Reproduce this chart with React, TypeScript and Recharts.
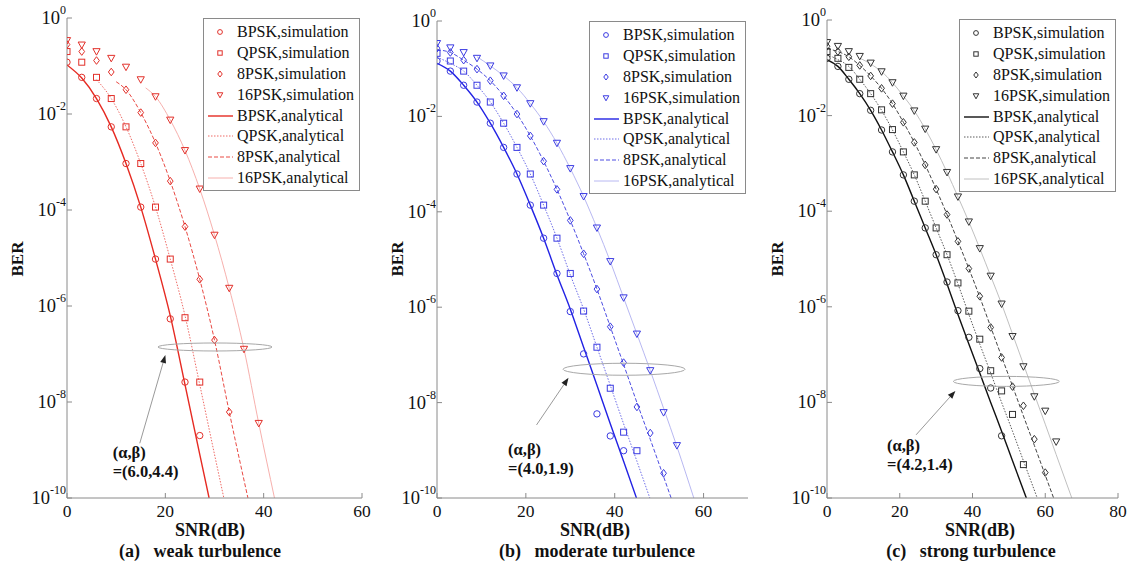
import React from 'react';
import { ComposedChart, Line, Scatter, XAxis, YAxis, ReferenceDot, ReferenceLine, Legend } from 'recharts';

const snrGrid = [0, 3, 6, 9, 12, 15, 18, 21, 24, 27, 30, 33, 36, 39, 42, 45, 48, 51, 54, 57, 60, 63];
const berTicks = [1, 1e-2, 1e-4, 1e-6, 1e-8, 1e-10];
const snrTicksAB = [0, 20, 40, 60];
const snrTicksC = [0, 20, 40, 60, 80];
const legendNames = [
  'BPSK,simulation', 'QPSK,simulation', '8PSK,simulation', '16PSK,simulation',
  'BPSK,analytical', 'QPSK,analytical', '8PSK,analytical', '16PSK,analytical',
];

// (a) weak turbulence
const weakBpskSim = [0.12, 5.8e-2, 2.1e-2, 5.4e-3, 9.3e-4, 1.15e-4, 9.5e-6, 5.4e-7, 2.6e-8, 2.0e-9];
const weakQpskSim = [0.2, 0.12, 5.8e-2, 2.1e-2, 5.4e-3, 9.3e-4, 1.15e-4, 9.5e-6, 5.7e-7, 2.6e-8];
const weak8pskSim = [0.28, 0.2, 0.13, 7.5e-2, 3.2e-2, 1.07e-2, 2.5e-3, 4.0e-4, 4.5e-5, 3.6e-6, 1.95e-7, 6.2e-9];
const weak16pskSim = [0.34, 0.275, 0.2, 0.145, 9.5e-2, 5.2e-2, 2.3e-2, 7.5e-3, 1.74e-3, 2.75e-4, 3.0e-5, 2.35e-6, 1.26e-7, 3.6e-9];
const weakBpskAnaSnr = [0, 3, 6, 9, 12, 15, 18, 21, 24, 27, 28.9];
const weakBpskAna = [0.105, 5.6e-2, 2.1e-2, 5.4e-3, 9.3e-4, 1.15e-4, 9.5e-6, 6.3e-7, 2.3e-8, 8.1e-10, 1e-10];
const weakQpskAnaSnr = [6, 9, 12, 15, 18, 21, 24, 27, 30, 31.9];
const weakQpskAna = [5.2e-2, 2.1e-2, 5.4e-3, 9.3e-4, 1.15e-4, 9.5e-6, 6.3e-7, 2.3e-8, 8.1e-10, 1e-10];
const weak8pskAnaSnr = [10, 12, 15, 18, 21, 24, 27, 30, 33, 36.8];
const weak8pskAna = [4.7e-2, 3.2e-2, 1.07e-2, 2.5e-3, 4.0e-4, 4.5e-5, 3.6e-6, 1.95e-7, 6.2e-9, 1e-10];
const weak16pskAnaSnr = [16, 18, 21, 24, 27, 30, 33, 36, 39, 42.2];
const weak16pskAna = [3.5e-2, 2.3e-2, 7.5e-3, 1.74e-3, 2.75e-4, 3.0e-5, 2.35e-6, 1.26e-7, 3.6e-9, 1e-10];

// (b) moderate turbulence
const modBpskSim = [0.145, 8.9e-2, 4.5e-2, 2.0e-2, 7.2e-3, 2.24e-3, 6.2e-4, 1.38e-4, 2.8e-5, 5.1e-6, 8.1e-7, 1.05e-7, 5.8e-9, 2.0e-9, 9.8e-10];
const modQpskSim = [0.21, 0.145, 8.9e-2, 4.5e-2, 2.0e-2, 7.2e-3, 2.24e-3, 6.2e-4, 1.38e-4, 2.8e-5, 5.1e-6, 8.3e-7, 1.45e-7, 2.0e-8, 2.4e-9, 9.8e-10];
const mod8pskSim = [0.269, 0.219, 0.151, 9.8e-2, 5.6e-2, 2.7e-2, 1.12e-2, 3.9e-3, 1.15e-3, 2.95e-4, 6.6e-5, 1.32e-5, 2.4e-6, 3.9e-7, 6.9e-8, 8.1e-9, 2.3e-9, 3.3e-10];
const mod16pskSim = [0.339, 0.275, 0.219, 0.166, 0.115, 7.1e-2, 4.0e-2, 1.86e-2, 7.8e-3, 2.75e-3, 8.1e-4, 2.1e-4, 4.6e-5, 9.1e-6, 1.58e-6, 2.75e-7, 4.7e-8, 6.2e-9, 1.26e-9];
const modBpskAnaSnr = [0, 3, 6, 9, 12, 15, 18, 21, 24, 27, 30, 33, 36, 39, 42, 44.9];
const modBpskAna = [0.13, 8.9e-2, 4.5e-2, 2.0e-2, 7.2e-3, 2.24e-3, 6.2e-4, 1.38e-4, 2.8e-5, 4.8e-6, 9.1e-7, 1.45e-7, 2.3e-8, 3.6e-9, 5.9e-10, 1e-10];
const modQpskAnaSnr = [0, 3, 6, 9, 12, 15, 18, 21, 24, 27, 30, 33, 36, 39, 42, 45, 47.9];
const modQpskAna = [0.174, 0.13, 8.9e-2, 4.5e-2, 2.0e-2, 7.2e-3, 2.24e-3, 6.2e-4, 1.38e-4, 2.8e-5, 4.8e-6, 9.1e-7, 1.45e-7, 2.3e-8, 3.6e-9, 5.9e-10, 1e-10];
const mod8pskAnaSnr = [0, 3, 6, 9, 12, 15, 18, 21, 24, 27, 30, 33, 36, 39, 42, 45, 48, 51, 52.7];
const mod8pskAna = [0.25, 0.219, 0.151, 9.8e-2, 5.6e-2, 2.7e-2, 1.12e-2, 3.9e-3, 1.15e-3, 2.95e-4, 6.6e-5, 1.32e-5, 2.4e-6, 3.9e-7, 6.3e-8, 1.0e-8, 1.7e-9, 2.8e-10, 1e-10];
const mod16pskAnaSnr = [9, 12, 15, 18, 21, 24, 27, 30, 33, 36, 39, 42, 45, 48, 51, 54, 57.8];
const mod16pskAna = [0.178, 0.115, 7.1e-2, 4.0e-2, 1.86e-2, 7.8e-3, 2.75e-3, 8.1e-4, 2.1e-4, 4.6e-5, 9.1e-6, 1.58e-6, 2.75e-7, 4.7e-8, 7.6e-9, 1.2e-9, 1e-10];

// (c) strong turbulence
const strBpskSim = [0.158, 0.107, 5.75e-2, 2.88e-2, 1.29e-2, 5.0e-3, 1.74e-3, 5.75e-4, 1.62e-4, 4.47e-5, 1.23e-5, 3.3e-6, 8.3e-7, 2.3e-7, 5.1e-8, 2.0e-8, 2.0e-9];
const strQpskSim = [0.219, 0.158, 0.102, 5.75e-2, 2.88e-2, 1.32e-2, 5.1e-3, 1.74e-3, 5.75e-4, 1.62e-4, 4.47e-5, 1.23e-5, 3.16e-6, 8.1e-7, 2.1e-7, 4.6e-8, 1.74e-8, 5.6e-9, 5.0e-10];
const str8pskSim = [0.282, 0.219, 0.17, 0.112, 6.76e-2, 3.72e-2, 1.78e-2, 7.24e-3, 2.75e-3, 9.3e-4, 2.9e-4, 8.5e-5, 2.34e-5, 6.3e-6, 1.66e-6, 3.7e-7, 8.7e-8, 2.14e-8, 8.5e-9, 1.7e-9, 3.4e-10];
const str16pskSim = [0.339, 0.282, 0.219, 0.174, 0.126, 8.3e-2, 4.9e-2, 2.57e-2, 1.26e-2, 5.25e-3, 1.95e-3, 6.5e-4, 2.0e-4, 6.0e-5, 1.66e-5, 4.4e-6, 1.15e-6, 2.4e-7, 5.6e-8, 1.32e-8, 6.6e-9, 1.5e-9];
const strBpskAnaSnr = [0, 3, 6, 9, 12, 15, 18, 21, 24, 27, 30, 33, 36, 39, 42, 45, 48, 51, 54.8];
const strBpskAna = [0.148, 0.107, 5.75e-2, 2.88e-2, 1.29e-2, 5.0e-3, 1.74e-3, 5.75e-4, 1.62e-4, 4.47e-5, 1.23e-5, 3.0e-6, 6.9e-7, 1.66e-7, 4.1e-8, 1.0e-8, 2.5e-9, 6.0e-10, 1e-10];
const strQpskAnaSnr = [0, 3, 6, 9, 12, 15, 18, 21, 24, 27, 30, 33, 36, 39, 42, 45, 48, 51, 54, 57.8];
const strQpskAna = [0.19, 0.148, 0.107, 5.75e-2, 2.88e-2, 1.29e-2, 5.0e-3, 1.74e-3, 5.75e-4, 1.62e-4, 4.47e-5, 1.23e-5, 3.0e-6, 6.9e-7, 1.66e-7, 4.1e-8, 1.0e-8, 2.5e-9, 6.0e-10, 1e-10];
const str8pskAnaSnr = [0, 3, 6, 9, 12, 15, 18, 21, 24, 27, 30, 33, 36, 39, 42, 45, 48, 51, 54, 57, 60, 62.3];
const str8pskAna = [0.25, 0.219, 0.17, 0.112, 6.76e-2, 3.72e-2, 1.78e-2, 7.24e-3, 2.75e-3, 9.3e-4, 2.9e-4, 8.5e-5, 2.34e-5, 6.3e-6, 1.6e-6, 3.8e-7, 9.1e-8, 2.2e-8, 5.2e-9, 1.26e-9, 3.0e-10, 1e-10];
const str16pskAnaSnr = [9, 12, 15, 18, 21, 24, 27, 30, 33, 36, 39, 42, 45, 48, 51, 54, 57, 60, 63, 67.3];
const str16pskAna = [0.16, 0.12, 8.3e-2, 4.9e-2, 2.57e-2, 1.26e-2, 5.25e-3, 1.95e-3, 6.5e-4, 2.0e-4, 6.0e-5, 1.66e-5, 4.4e-6, 1.15e-6, 2.7e-7, 6.3e-8, 1.48e-8, 3.5e-9, 8.1e-10, 1e-10];

const FONT = '"Liberation Serif", "Times New Roman", serif';
const kinds = ['circle', 'square', 'diamond', 'triangle'];

const toPoints = (snr: number[], ber: number[]) => ber.map((b, i) => ({ snr: snr[i], ber: b }));

function Marker({ kind, cx, cy, color, s = 3.2 }: any) {
  if (cx == null || cy == null) return <g />;
  if (kind === 'circle') return <circle cx={cx} cy={cy} r={s} fill="none" stroke={color} strokeWidth={1} />;
  if (kind === 'square') return <rect x={cx - s + 0.2} y={cy - s + 0.2} width={2 * s - 0.4} height={2 * s - 0.4} fill="none" stroke={color} strokeWidth={1} />;
  if (kind === 'diamond') {
    const d = s + 0.6;
    return <polygon points={`${cx},${cy - d} ${cx + d * 0.75},${cy} ${cx},${cy + d} ${cx - d * 0.75},${cy}`} fill="none" stroke={color} strokeWidth={1} />;
  }
  const t = s + 0.4;
  return <polygon points={`${cx - t},${cy - t * 0.8} ${cx + t},${cy - t * 0.8} ${cx},${cy + t}`} fill="none" stroke={color} strokeWidth={1} />;
}

const YTick = ({ x, y, payload }: any) => {
  const exp = Math.round(Math.log10(payload.value));
  return (
    <text x={x} y={y + 6} textAnchor="end" fontFamily={FONT} fontSize={18.5} fill="#111">
      10<tspan dy={-10} fontSize={12}>{exp}</tspan>
    </text>
  );
};

const XTick = ({ x, y, payload }: any) => (
  <text x={x} y={y} dy={12} textAnchor="middle" fontFamily={FONT} fontSize={17.5} fill="#111">
    {payload.value}
  </text>
);

const Blank = () => <g />;

type Curve = { snr: number[]; ber: number[] };

interface PanelProps {
  left: number;
  width: number;
  plotLeft: number;
  plotRight: number;
  plotTop: number;
  xMax: number;
  xTicks: number[];
  sims: number[][];
  anas: Curve[];
  markerColor: string;
  lineColors: string[];
  legendPos: { left: number; top: number };
  ellipse: { snr: number; ber: number; rx: number; ry: number };
  arrow: { from: [number, number]; to: [number, number] };
  note: { snr: number; ber: number; text: string };
  berLabelX: number;
  snrLabelX: number;
  caption: string;
  captionX: number;
}

const dashes = [undefined, '1.5 1.5', '4 2', undefined];
const widths = [1.4, 1, 1, 1];

function LegendBox({ markerColor, lineColors }: { markerColor: string; lineColors: string[] }) {
  return (
    <div style={{ border: '1px solid #8a8a8a', background: '#fff', width: 157, padding: '3px 0 2px', fontFamily: FONT, fontSize: 16, color: '#111', boxSizing: 'border-box' }}>
      {legendNames.map((name, i) => (
        <div key={name} style={{ height: 20.8, display: 'flex', alignItems: 'center', whiteSpace: 'nowrap' }}>
          <svg width={32} height={12} style={{ flex: 'none' }}>
            {i < 4 ? (
              <Marker kind={kinds[i]} cx={16} cy={6} color={markerColor} s={2.4} />
            ) : (
              <line x1={4} x2={29} y1={6} y2={6} stroke={lineColors[i - 4]} strokeWidth={widths[i - 4]} strokeDasharray={dashes[i - 4]} />
            )}
          </svg>
          <span style={{ marginLeft: 1 }}>{name}</span>
        </div>
      ))}
    </div>
  );
}

function Panel(p: PanelProps) {
  const H = 565;
  const yAxisW = 50;
  const margin = { top: p.plotTop, right: p.left + p.width - p.plotRight, bottom: H - 498 - 30, left: p.plotLeft - p.left - yAxisW };
  const axisStroke = '#8a8a8a';
  return (
    <div style={{ position: 'absolute', left: p.left, top: 0, width: p.width, height: H }}>
      <ComposedChart width={p.width} height={H} margin={margin}>
        <XAxis xAxisId="b" dataKey="snr" type="number" domain={[0, p.xMax]} ticks={p.xTicks} allowDataOverflow
          tickSize={-5} tickMargin={12} tick={<XTick />} stroke={axisStroke} height={30} />
        <XAxis xAxisId="t" orientation="top" type="number" domain={[0, p.xMax]} ticks={p.xTicks} allowDataOverflow
          tickSize={-5} tick={<Blank />} stroke={axisStroke} height={0} />
        <YAxis yAxisId="l" dataKey="ber" type="number" scale="log" domain={[1e-10, 1]} ticks={berTicks} allowDataOverflow
          tickSize={-5} tickMargin={6} tick={<YTick />} stroke={axisStroke} width={yAxisW} />
        <YAxis yAxisId="r" orientation="right" type="number" scale="log" domain={[1e-10, 1]} ticks={berTicks} allowDataOverflow
          tickSize={-5} tick={<Blank />} stroke={axisStroke} width={0} />
        {p.anas.map((c, i) => (
          <Line key={'a' + i} xAxisId="b" yAxisId="l" data={toPoints(c.snr, c.ber)} dataKey="ber" type="monotone"
            stroke={p.lineColors[i]} strokeWidth={widths[i]} strokeDasharray={dashes[i]} dot={false} activeDot={false}
            isAnimationActive={false} legendType="none" />
        ))}
        {p.sims.map((s, i) => (
          <Scatter key={'s' + i} xAxisId="b" yAxisId="l" data={toPoints(snrGrid, s)} dataKey="ber"
            shape={(sp: any) => <Marker kind={kinds[i]} cx={sp.cx} cy={sp.cy} color={p.markerColor} />}
            isAnimationActive={false} legendType="none" />
        ))}
        <ReferenceDot xAxisId="b" yAxisId="l" x={p.ellipse.snr} y={p.ellipse.ber} r={0}
          shape={(sp: any) => <ellipse cx={sp.cx} cy={sp.cy} rx={p.ellipse.rx} ry={p.ellipse.ry} fill="none" stroke="#a8a8a8" strokeWidth={1} />} />
        <ReferenceLine xAxisId="b" yAxisId="l"
          segment={[{ x: p.arrow.from[0], y: p.arrow.from[1] }, { x: p.arrow.to[0], y: p.arrow.to[1] }]}
          shape={(sp: any) => {
            const { x1, y1, x2, y2 } = sp;
            if (x1 == null) return <g />;
            const a = Math.atan2(y2 - y1, x2 - x1);
            const L = 8, W = 3;
            const bx = x2 - L * Math.cos(a), by = y2 - L * Math.sin(a);
            const pts = `${x2},${y2} ${bx - W * Math.sin(a)},${by + W * Math.cos(a)} ${bx + W * Math.sin(a)},${by - W * Math.cos(a)}`;
            return (
              <g>
                <line x1={x1} y1={y1} x2={bx} y2={by} stroke="#9a9a9a" strokeWidth={1} />
                <polygon points={pts} fill="#222" />
              </g>
            );
          }} />
        <ReferenceDot xAxisId="b" yAxisId="l" x={p.note.snr} y={p.note.ber} r={0}
          shape={(sp: any) => (
            <text x={sp.cx} y={sp.cy} fontFamily={FONT} fontSize={16.5} fontWeight="bold" fill="#111">
              <tspan x={sp.cx}>(α,β)</tspan>
              <tspan x={sp.cx} dy={19}>{p.note.text}</tspan>
            </text>
          )} />
        <Legend layout="vertical" align="center" verticalAlign="middle"
          wrapperStyle={{ position: 'absolute', left: p.legendPos.left, top: p.legendPos.top, width: 'auto', margin: 0 }}
          content={() => <LegendBox markerColor={p.markerColor} lineColors={p.lineColors} />} />
      </ComposedChart>
      <div style={{ position: 'absolute', left: p.berLabelX - p.left - 20, top: 249, width: 40, textAlign: 'center', transform: 'rotate(-90deg)', fontFamily: FONT, fontWeight: 'bold', fontSize: 17, color: '#111' }}>BER</div>
      <div style={{ position: 'absolute', left: p.snrLabelX - p.left - 60, top: 522, width: 120, height: 17, lineHeight: '17px', textAlign: 'center', fontFamily: FONT, fontWeight: 'bold', fontSize: 18, color: '#111' }}>SNR(dB)</div>
      <div style={{ position: 'absolute', left: p.captionX - p.left - 130, top: 543, width: 260, height: 17, lineHeight: '17px', textAlign: 'center', whiteSpace: 'pre', fontFamily: FONT, fontWeight: 'bold', fontSize: 18, color: '#111' }}>{p.caption}</div>
    </div>
  );
}

export default function App() {
  return (
    <div style={{ position: 'absolute', left: 0, top: 0, width: 1130, height: 565, background: '#fff', overflow: 'hidden' }}>
      <Panel
        left={0} width={380} plotLeft={67} plotRight={362} plotTop={18}
        xMax={60} xTicks={snrTicksAB}
        sims={[weakBpskSim, weakQpskSim, weak8pskSim, weak16pskSim]}
        anas={[
          { snr: weakBpskAnaSnr, ber: weakBpskAna },
          { snr: weakQpskAnaSnr, ber: weakQpskAna },
          { snr: weak8pskAnaSnr, ber: weak8pskAna },
          { snr: weak16pskAnaSnr, ber: weak16pskAna },
        ]}
        markerColor="#e2302a"
        lineColors={['#e62a22', '#ef6b66', '#e94a44', '#f7b0ad']}
        legendPos={{ left: 203, top: 18 }}
        ellipse={{ snr: 30.1, ber: 1.4e-7, rx: 57, ry: 4 }}
        arrow={{ from: [14.8, 1.38e-9], to: [20.0, 9.5e-8] }}
        note={{ snr: 9.3, ber: 6.8e-10, text: '=(6.0,4.4)' }}
        berLabelX={18} snrLabelX={210} caption="(a)   weak turbulence" captionX={200}
      />
      <Panel
        left={380} width={380} plotLeft={437} plotRight={748} plotTop={21}
        xMax={70} xTicks={snrTicksAB}
        sims={[modBpskSim, modQpskSim, mod8pskSim, mod16pskSim]}
        anas={[
          { snr: modBpskAnaSnr, ber: modBpskAna },
          { snr: modQpskAnaSnr, ber: modQpskAna },
          { snr: mod8pskAnaSnr, ber: mod8pskAna },
          { snr: mod16pskAnaSnr, ber: mod16pskAna },
        ]}
        markerColor="#3b3be2"
        lineColors={['#2222e4', '#6c6ce8', '#4d4de2', '#b8b8f2']}
        legendPos={{ left: 209, top: 21 }}
        ellipse={{ snr: 42.1, ber: 5.0e-8, rx: 61, ry: 6 }}
        arrow={{ from: [22.4, 3.4e-9], to: [29.6, 3.3e-8] }}
        note={{ snr: 16, ber: 7.9e-10, text: '=(4.0,1.9)' }}
        berLabelX={398} snrLabelX={595} caption="(b)   moderate turbulence" captionX={597}
      />
      <Panel
        left={760} width={370} plotLeft={827} plotRight={1118} plotTop={20}
        xMax={80} xTicks={snrTicksC}
        sims={[strBpskSim, strQpskSim, str8pskSim, str16pskSim]}
        anas={[
          { snr: strBpskAnaSnr, ber: strBpskAna },
          { snr: strQpskAnaSnr, ber: strQpskAna },
          { snr: str8pskAnaSnr, ber: str8pskAna },
          { snr: str16pskAnaSnr, ber: str16pskAna },
        ]}
        markerColor="#333333"
        lineColors={['#111111', '#5a5a5a', '#444444', '#c0c0c0']}
        legendPos={{ left: 199, top: 19 }}
        ellipse={{ snr: 49.3, ber: 2.75e-8, rx: 53, ry: 5 }}
        arrow={{ from: [24.5, 2.1e-9], to: [35.3, 1.74e-8] }}
        note={{ snr: 16.5, ber: 9.5e-10, text: '=(4.2,1.4)' }}
        berLabelX={778} snrLabelX={980} caption="(c)   strong turbulence" captionX={971}
      />
    </div>
  );
}
